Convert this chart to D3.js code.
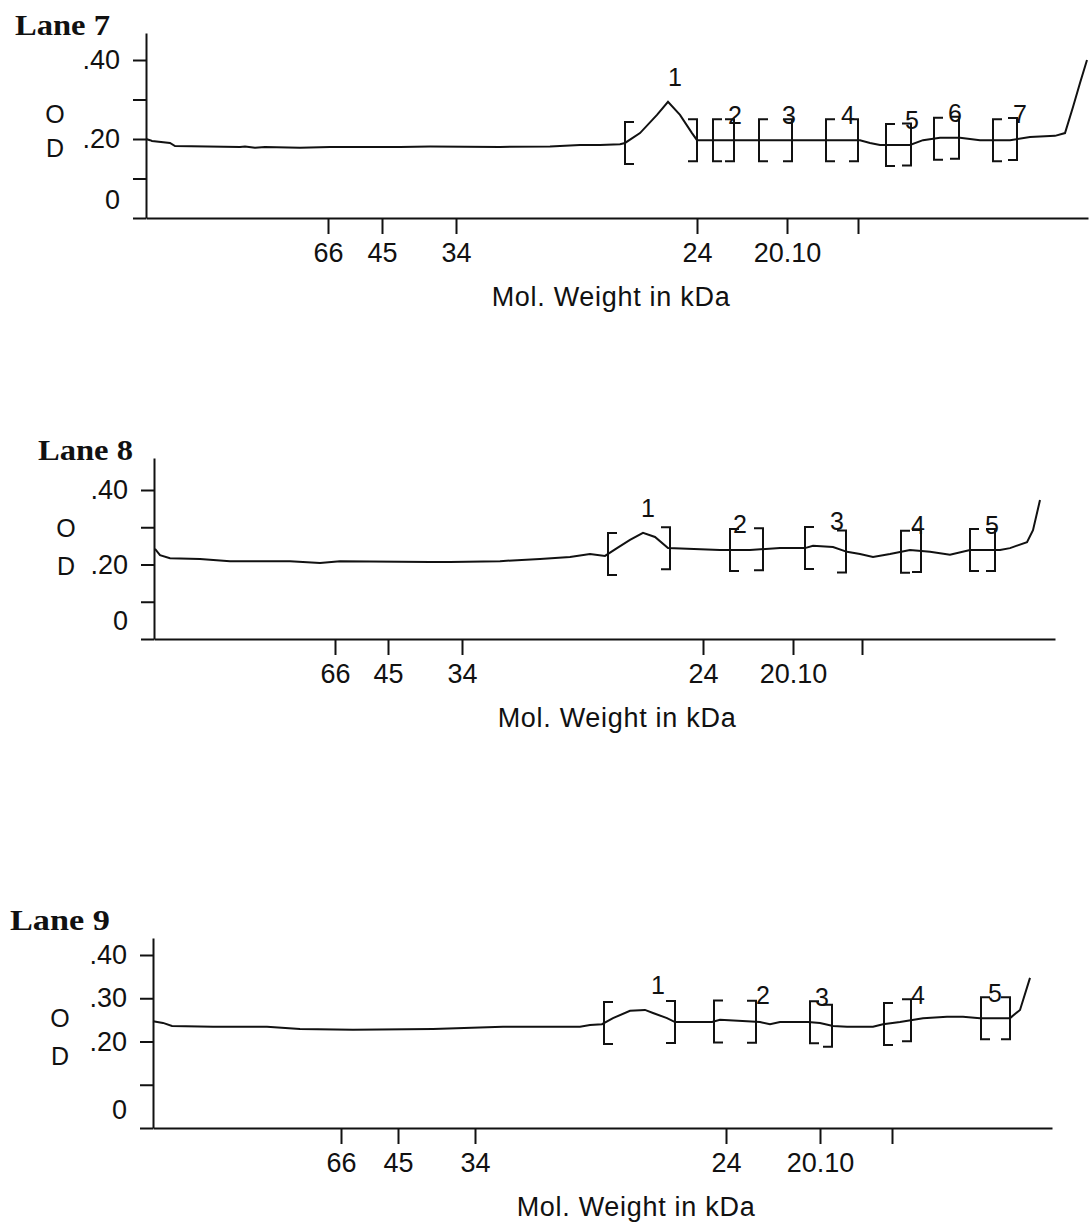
<!DOCTYPE html>
<html>
<head>
<meta charset="utf-8">
<script src="https://cdn.jsdelivr.net/npm/d3@7"></script>
<style>
body{margin:0;background:#fff;}
svg text{font-family:"Liberation Sans",Arial,sans-serif;fill:#111;}
.axis path,.axis line{stroke:#111;stroke-width:2;}
.axis text{font-size:27px;}
.curve,.bracket{fill:none;stroke:#111;stroke-width:2;}
.lane{font-family:"Liberation Serif","Times New Roman",serif;font-weight:bold;font-size:29px;}
.od{font-size:25px;}
.title{font-size:27px;letter-spacing:0.7px;}
.peak{font-size:25px;}
</style>
</head>
<body>
<div id="chart"></div>
<script>
// molecular weight markers (tick labels) and OD ticks
var mwLabels = ["66", "45", "34", "24", "20.10", ""];
var odTicks = [0, 0.1, 0.2, 0.3, 0.4];
var odLabels78 = ["0", "", ".20", "", ".40"];
var odLabels9 = ["0", "", ".20", ".30", ".40"];

// lane names and lengths (scan distance units)
var laneNames = ["Lane 7", "Lane 8", "Lane 9"];
var laneLengths = [942, 901, 899];

// marker positions along each lane (scan distance)
var lane7Markers = [182, 236, 310, 551, 641, 712];
var lane8Markers = [181, 234, 308, 549, 639, 708];
var lane9Markers = [188, 245, 322, 573, 667, 739];

// densitometry traces: [distance, OD]
var lane7Curve = [[0,.200],[4,.197],[6,.195],[24,.190],[29,.182],[94,.180],[99,.181],[109,.178],[119,.180],
  [154,.178],[184,.180],[254,.180],[284,.181],[354,.180],[404,.181],[434,.185],[454,.185],[474,.187],
  [479,.190],[494,.215],[511,.261],[522,.294],[534,.261],[546,.215],[551,.197],[574,.197],[624,.197],
  [684,.197],[714,.197],[724,.190],[734,.185],[764,.185],[777,.197],[794,.203],[814,.203],[834,.197],
  [864,.197],[884,.205],[909,.208],[919,.215],[927,.281],[934,.342],[941,.400]];
var lane8Curve = [[1,.242],[6,.225],[16,.217],[46,.215],[76,.209],[136,.209],[166,.204],[186,.209],
  [276,.207],[296,.207],[346,.209],[386,.215],[416,.220],[436,.228],[451,.223],[463,.244],[476,.266],
  [489,.285],[501,.274],[514,.244],[566,.239],[596,.239],[626,.244],[651,.244],[659,.250],[679,.247],
  [693,.234],[706,.228],[719,.220],[736,.228],[756,.239],[776,.234],[796,.226],[816,.239],[846,.239],
  [856,.244],[873,.260],[879,.292],[886,.373]];
var lane9Curve = [[0,.247],[10,.243],[19,.236],[60,.234],[114,.234],[147,.229],[200,.227],[280,.229],
  [350,.234],[427,.234],[437,.238],[449,.240],[460,.254],[477,.271],[492,.273],[500,.266],[514,.254],
  [522,.245],[559,.245],[567,.250],[594,.247],[607,.245],[617,.240],[627,.245],[655,.245],[667,.243],
  [680,.236],[694,.234],[720,.234],[730,.240],[747,.245],[770,.254],[794,.257],[810,.257],[827,.254],
  [857,.254],[867,.273],[877,.347]];

// detected bands: [start, end] and the label position
var lane7Bands = [[479,551],[567,588],[613,646],[680,712],[740,765],[788,813],[847,871]];
var lane7BandLabelX = [529, 589, 643, 702, 766, 809, 874];
var lane8Bands = [[454,516],[576,609],[651,692],[747,767],[816,841]];
var lane8BandLabelX = [494, 586, 683, 764, 838];
var lane9Bands = [[451,522],[561,603],[657,679],[731,758],[828,857]];
var lane9BandLabelX = [505, 610, 669, 765, 842];

// page layout for each panel
var layout = [
  {x0:146, x1:1088, y0:218, y40:60, yTop:33, labelX:15, labelY:35, labelW:95, odX:55, odY:[123,157], titleX:611},
  {x0:154, x1:1055, y0:639, y40:490, yTop:458, labelX:38, labelY:460, labelW:95, odX:66, odY:[537,575], titleX:617},
  {x0:153, x1:1052, y0:1128, y40:955, yTop:938, labelX:10, labelY:930, labelW:100, odX:60, odY:[1027,1065], titleX:636}
];

var lanes = [
  {curve:lane7Curve, markers:lane7Markers, bands:lane7Bands, bandX:lane7BandLabelX, odLabels:odLabels78},
  {curve:lane8Curve, markers:lane8Markers, bands:lane8Bands, bandX:lane8BandLabelX, odLabels:odLabels78},
  {curve:lane9Curve, markers:lane9Markers, bands:lane9Bands, bandX:lane9BandLabelX, odLabels:odLabels9}
];

var width = 1089, height = 1226;
var svg = d3.select("#chart").append("svg")
    .attr("width", width)
    .attr("height", height);

var bis = d3.bisector(function(d){ return d[0]; }).left;
function valueAt(curve, d) {
  var i = bis(curve, d);
  if (i <= 0) return curve[0][1];
  if (i >= curve.length) return curve[curve.length-1][1];
  var a = curve[i-1], b = curve[i];
  return a[1] + (b[1]-a[1]) * (d-a[0]) / (b[0]-a[0]);
}

lanes.forEach(function(lane, li){
  var p = layout[li];
  var g = svg.append("g");

  var x = d3.scaleLinear().domain([0, laneLengths[li]]).range([p.x0, p.x1]);
  var y = d3.scaleLinear().domain([0, 0.4]).range([p.y0, p.y40]);
  var yAx = y.copy().domain([0, y.invert(p.yTop)]).range([p.y0, p.yTop]);

  // y axis
  var ya = g.append("g")
      .attr("class", "axis")
      .attr("transform", "translate(" + p.x0 + ",0)")
      .call(d3.axisLeft(yAx)
        .tickValues(odTicks)
        .tickFormat(function(d, i){ return lane.odLabels[i]; })
        .tickSize(13).tickPadding(13).tickSizeOuter(0));
  ya.selectAll("text")
      .attr("transform", function(d){ return d === 0 ? "translate(0,-18)" : null; });

  // x axis
  g.append("g")
      .attr("class", "axis")
      .attr("transform", "translate(0," + p.y0 + ")")
      .call(d3.axisBottom(x)
        .tickValues(lane.markers)
        .tickFormat(function(d, i){ return mwLabels[i]; })
        .tickSize(16).tickPadding(9).tickSizeOuter(0));

  // trace
  g.append("path")
      .datum(lane.curve)
      .attr("class", "curve")
      .attr("d", d3.line()
        .x(function(d){ return x(d[0]); })
        .y(function(d){ return y(d[1]); }));

  // band brackets
  var bw = 9, bh = 21;
  lane.bands.forEach(function(b, bi){
    var xa = x(b[0]), ya2 = y(valueAt(lane.curve, b[0]));
    var xb = x(b[1]), yb = y(valueAt(lane.curve, b[1]));
    g.append("path").attr("class", "bracket")
      .attr("d", "M" + (xa+bw) + "," + (ya2-bh) + "H" + xa + "V" + (ya2+bh) + "H" + (xa+bw));
    g.append("path").attr("class", "bracket")
      .attr("d", "M" + (xb-bw) + "," + (yb-bh) + "H" + xb + "V" + (yb+bh) + "H" + (xb-bw));

    var inside = lane.curve.filter(function(d){ return d[0] >= b[0] && d[0] <= b[1]; })
        .map(function(d){ return d[1]; });
    inside.push(valueAt(lane.curve, b[0]), valueAt(lane.curve, b[1]));
    var top = d3.max(inside);
    g.append("text").attr("class", "peak")
      .attr("x", x(lane.bandX[bi]))
      .attr("y", y(top) - 16)
      .attr("text-anchor", "middle")
      .text(bi + 1);
  });

  // lane name
  g.append("text").attr("class", "lane")
    .attr("x", p.labelX).attr("y", p.labelY)
    .attr("textLength", p.labelW)
    .attr("lengthAdjust", "spacingAndGlyphs")
    .text(laneNames[li]);

  // OD label
  ["O", "D"].forEach(function(c, ci){
    g.append("text").attr("class", "od")
      .attr("x", p.odX).attr("y", p.odY[ci])
      .attr("text-anchor", "middle")
      .text(c);
  });

  // x title
  g.append("text").attr("class", "title")
    .attr("x", p.titleX).attr("y", p.y0 + 88)
    .attr("text-anchor", "middle")
    .text("Mol. Weight in kDa");
});
</script>
</body>
</html>
